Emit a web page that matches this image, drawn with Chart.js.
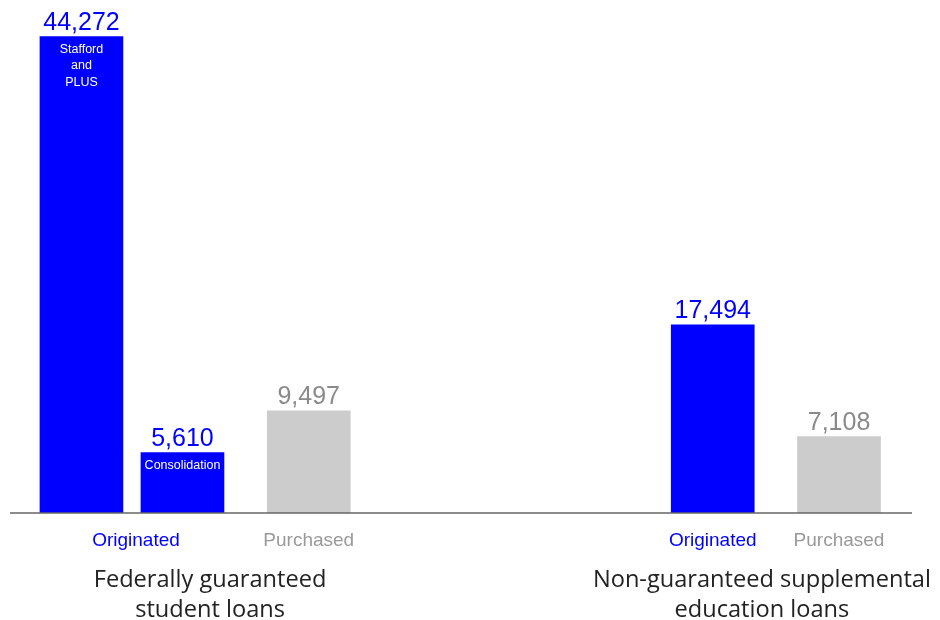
<!DOCTYPE html>
<html>
<head>
<meta charset="utf-8">
<script src="https://cdn.jsdelivr.net/npm/chart.js@4/dist/chart.umd.min.js"></script>
<style>
  html, body { margin: 0; padding: 0; background: #ffffff; }
  #wrap { width: 940px; height: 620px; position: relative; }
</style>
</head>
<body>
<div id="wrap"><canvas id="c" width="940" height="620"></canvas></div>
<script>
// ---- data ----
const barValues   = [44272, 5610, 9497, 17494, 7108];
const barKinds    = ["Originated", "Originated", "Purchased", "Originated", "Purchased"];
const barInner    = [["Stafford", "and", "PLUS"], ["Consolidation"], [], [], []];
const barSlots    = [0, 4, 9, 25, 30];        // slot index along the x axis
const barGroup    = [0, 0, 0, 1, 1];
const groupLabels = [["Federally guaranteed", "student loans"],
                     ["Non-guaranteed supplemental", "education loans"]];
const kindLabels  = ["Originated", "Purchased"];

// ---- styles ----
const BLUE = "#0000ff", GREY_BAR = "#cccccc", GREY_TXT = "#8a8a8a", GREY_AXIS = "#999999";
const fmt = v => v.toLocaleString("en-US");

const labelPlugin = {
  id: "labels",
  afterDatasetsDraw(chart) {
    const ctx = chart.ctx;
    const xs = chart.scales.x, ys = chart.scales.y;
    const area = chart.chartArea;
    const meta = chart.getDatasetMeta(0);
    ctx.save();
    // baseline
    ctx.strokeStyle = "#666666";
    ctx.lineWidth = 1.6;
    ctx.beginPath();
    ctx.moveTo(area.left, ys.getPixelForValue(0));
    ctx.lineTo(area.right, ys.getPixelForValue(0));
    ctx.stroke();

    meta.data.forEach((bar, i) => {
      const kind = barKinds[i];
      // value label
      ctx.font = "25px 'Liberation Sans', Arial, sans-serif";
      ctx.textAlign = "center";
      ctx.textBaseline = "alphabetic";
      ctx.fillStyle = kind === "Originated" ? BLUE : GREY_TXT;
      ctx.fillText(fmt(barValues[i]), bar.x, bar.y - 7);
      // inner label
      ctx.font = "12.5px 'Liberation Sans', Arial, sans-serif";
      ctx.fillStyle = "#ffffff";
      ctx.textBaseline = "middle";
      barInner[i].forEach((line, k) => {
        ctx.fillText(line, bar.x, bar.y + 13 + k * 16.3);
      });
    });

    // kind labels under each group
    const base = ys.getPixelForValue(0);
    ctx.font = "19px 'Liberation Sans', Arial, sans-serif";
    ctx.textBaseline = "middle";
    [0, 1].forEach(g => {
      kindLabels.forEach(kind => {
        const idx = barSlots.map((s, i) => i).filter(i => barGroup[i] === g && barKinds[i] === kind);
        if (!idx.length) return;
        const mid = idx.reduce((a, i) => a + barSlots[i], 0) / idx.length;
        let px = xs.getPixelForValue(mid);
        if (idx.length > 1) px += 4;
        ctx.fillStyle = kind === "Originated" ? BLUE : GREY_AXIS;
        ctx.fillText(kind, px, base + 28);
      });
    });

    // group labels
    ctx.font = "23.6px 'Open Sans', 'Noto Sans', sans-serif";
    ctx.fillStyle = "#222222";
    const offs = [15, -14];
    [0, 1].forEach(g => {
      const idx = barSlots.map((s, i) => i).filter(i => barGroup[i] === g);
      const lo = xs.getPixelForValue(barSlots[idx[0]]) - 41.5;
      const hi = xs.getPixelForValue(barSlots[idx[idx.length - 1]]) + 41.5;
      const cx = (lo + hi) / 2 + offs[g];
      groupLabels[g].forEach((line, k) => {
        ctx.fillText(line, cx, base + 67 + k * 30.5);
      });
    });
    ctx.restore();
  }
};

new Chart(document.getElementById("c"), {
  type: "bar",
  data: {
    datasets: [{
      data: barValues.map((v, i) => ({ x: barSlots[i], y: v })),
      backgroundColor: barKinds.map(k => k === "Originated" ? BLUE : GREY_BAR),
      borderWidth: 0,
      barThickness: 83
    }]
  },
  options: {
    responsive: false,
    animation: false,
    events: [],
    layout: { padding: { left: 10, right: 28, top: 18, bottom: 107 } },
    plugins: { legend: { display: false }, tooltip: { enabled: false } },
    scales: {
      x: { type: "linear", min: -2.83, max: 32.89, offset: false, display: false },
      y: { min: 0, max: 46000, display: false }
    }
  },
  plugins: [labelPlugin]
});
</script>
</body>
</html>
